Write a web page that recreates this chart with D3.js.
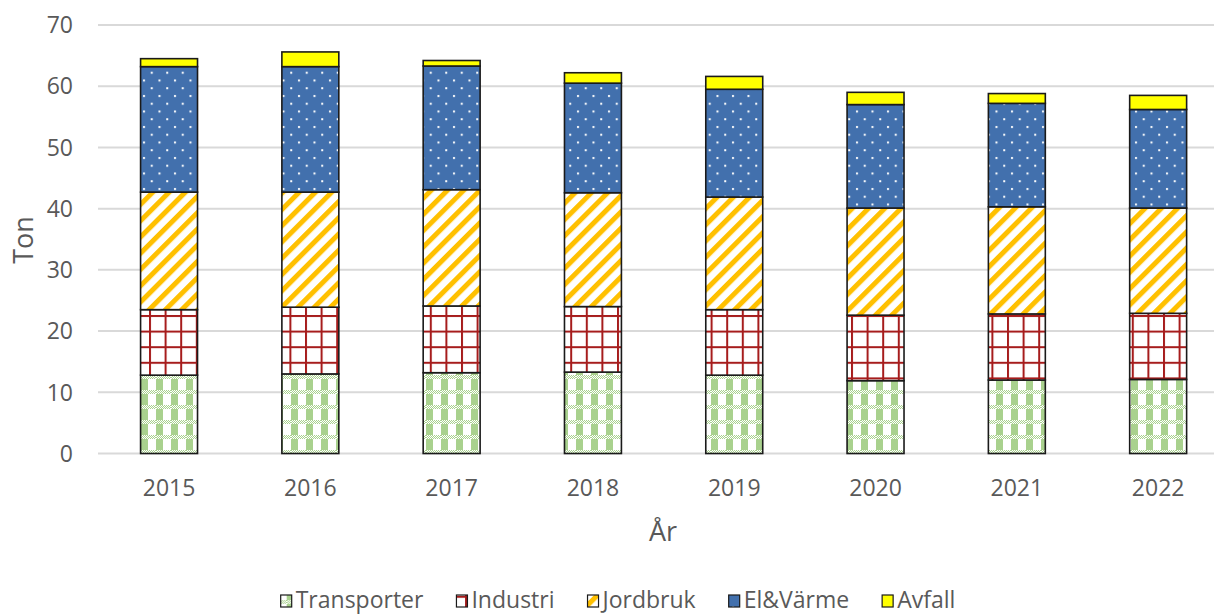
<!DOCTYPE html>
<html><head><meta charset="utf-8">
<script src="https://cdn.jsdelivr.net/npm/d3@7/dist/d3.min.js"></script>
<style>
html,body{margin:0;padding:0;background:#fff;overflow:hidden}
text{font-family:"Open Sans",Lato,sans-serif;fill:#595959}
</style></head>
<body><svg id="c" width="1214" height="615"></svg>
<script>
const years = ["2015","2016","2017","2018","2019","2020","2021","2022"];
const seriesNames = ["Transporter","Industri","Jordbruk","El&Värme","Avfall"];
const transporter = [12.8,13.0,13.2,13.3,12.8,11.9,12.0,12.1];
const industri    = [10.7,10.9,10.9,10.7,10.7,10.7,10.8,10.8];
const jordbruk    = [19.2,18.8,19.0,18.6,18.4,17.5,17.5,17.2];
const elvarme     = [20.5,20.5,20.2,17.9,17.6,16.9,16.9,16.1];
const avfall      = [1.3,2.4,0.9,1.7,2.1,2.0,1.6,2.3];
const yTicks = [0,10,20,30,40,50,60,70];

const seriesValues = [transporter, industri, jordbruk, elvarme, avfall];
const table = years.map((y,i)=>{const o={year:y}; seriesNames.forEach((s,j)=>o[s]=seriesValues[j][i]); return o;});

const svg = d3.select("#c");
const defs = svg.append("defs");

// Transporter: green stripes + checker bands
{
  const p = defs.append("pattern").attr("id","p0").attr("patternUnits","userSpaceOnUse")
    .attr("width",15).attr("height",15).attr("x",141).attr("y",0);
  p.append("rect").attr("width",15).attr("height",15).attr("fill","#fff");
  p.append("rect").attr("x",0).attr("width",7).attr("height",15).attr("fill","#a9d18e");
  p.append("rect").attr("y",0).attr("width",15).attr("height",4).attr("fill","#fff");
  const cells=[]; for(let y=0;y<4;y++) for(let x=0;x<15;x++) if((x+y)%2===0) cells.push([x,y]);
  p.selectAll("rect.c").data(cells).join("rect").attr("class","c")
    .attr("x",d=>d[0]).attr("y",d=>d[1]).attr("width",1).attr("height",1).attr("fill","#a9d18e");
}
// Industri: red grid
{
  const p = defs.append("pattern").attr("id","p1").attr("patternUnits","userSpaceOnUse")
    .attr("width",15.6).attr("height",15.6).attr("x",149).attr("y",3);
  p.append("rect").attr("width",15.6).attr("height",15.6).attr("fill","#fff");
  p.append("rect").attr("x",0).attr("width",2).attr("height",15.6).attr("fill","#a61c1c");
  p.append("rect").attr("y",0).attr("height",2).attr("width",15.6).attr("fill","#a61c1c");
}
// Jordbruk: diagonal orange stripes
{
  const p = defs.append("pattern").attr("id","p2").attr("patternUnits","userSpaceOnUse")
    .attr("width",11.5).attr("height",11.5).attr("patternTransform","rotate(45)");
  p.append("rect").attr("width",11.5).attr("height",11.5).attr("fill","#fff");
  p.append("rect").attr("width",5).attr("height",11.5).attr("fill","#ffc000");
}
// El&Värme: blue with white dots
{
  const p = defs.append("pattern").attr("id","p3").attr("patternUnits","userSpaceOnUse")
    .attr("width",15.5).attr("height",15.5).attr("x",141).attr("y",0);
  p.append("rect").attr("width",15.5).attr("height",15.5).attr("fill","#4270ad");
  p.append("rect").attr("x",2).attr("y",2).attr("width",2).attr("height",2).attr("fill","#fff");
  p.append("rect").attr("x",9.75).attr("y",9.75).attr("width",2).attr("height",2).attr("fill","#fff");
}
const fills = ["url(#p0)","url(#p1)","url(#p2)","url(#p3)","#ffff00"];

const x = d3.scaleBand().domain(years).range([98.4,1228.8]).paddingInner(0.597).paddingOuter(0.2985);
const y = d3.scaleLinear().domain([0,70]).range([453.5,25]);

// gridlines
svg.append("g").selectAll("line").data(yTicks).join("line")
  .attr("x1",98).attr("x2",1214).attr("y1",d=>y(d)).attr("y2",d=>y(d))
  .attr("stroke","#d9d9d9").attr("stroke-width",2);

// y tick labels
svg.append("g").selectAll("text").data(yTicks).join("text")
  .attr("x",73).attr("y",d=>y(d)).attr("dy","0.36em").attr("text-anchor","end")
  .style("font-size","23px").text(d=>d);

// bars
const stack = d3.stack().keys(seriesNames)(table);
svg.append("g").selectAll("g").data(stack).join("g")
  .attr("fill",(d,i)=>fills[i])
  .selectAll("rect").data(d=>d).join("rect")
  .attr("x",d=>x(d.data.year)).attr("width",x.bandwidth())
  .attr("y",d=>y(d[1])).attr("height",d=>y(d[0])-y(d[1]))
  .attr("stroke","#1a1a1a").attr("stroke-width",1.6);

// x tick labels
svg.append("g").selectAll("text").data(years).join("text")
  .attr("x",d=>x(d)+x.bandwidth()/2).attr("y",496).attr("text-anchor","middle")
  .style("font-size","23px").text(d=>d);

// axis titles
svg.append("text").attr("transform","translate(33,240) rotate(-90)").attr("text-anchor","middle")
  .style("font-size","27px").text("Ton");
svg.append("text").attr("x",663).attr("y",541).attr("text-anchor","middle")
  .style("font-size","27px").text("År");

// legend
const lg = svg.append("g");
const items = lg.selectAll("g").data(seriesNames).join("g");
items.append("rect").attr("width",11).attr("height",12).attr("y",595)
  .attr("fill",(d,i)=>fills[i]).attr("stroke","#1a1a1a").attr("stroke-width",1.2);
items.append("text").attr("x",15).attr("y",607.5).style("font-size","23px").text(d=>d);
const gap=33; const widths=[];
items.each(function(){ widths.push(15 + d3.select(this).select("text").node().getComputedTextLength()); });
const total = d3.sum(widths) + gap*(widths.length-1);
let start = 618 - total/2;
items.attr("transform",(d,i)=>{ const t=`translate(${start},0)`; start += widths[i]+gap; return t; });
</script></body></html>
